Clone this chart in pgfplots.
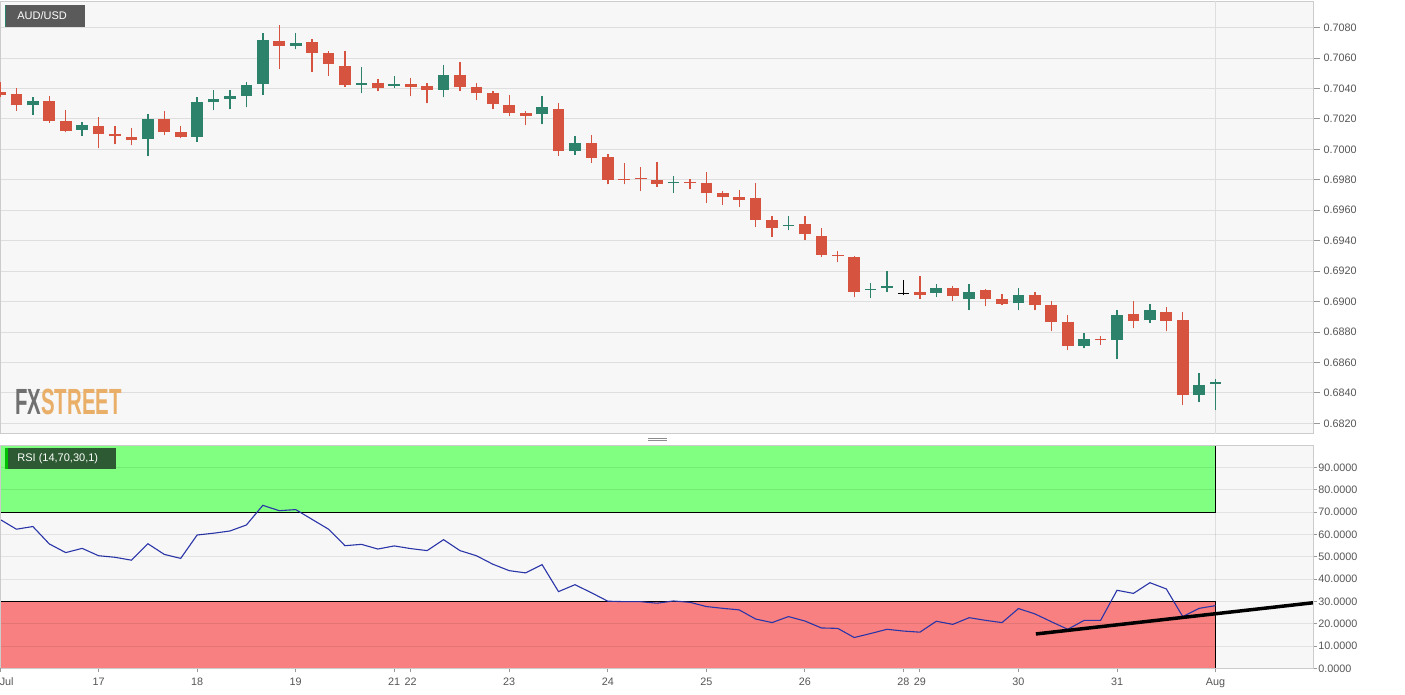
\documentclass[border=0pt]{standalone}
\usepackage{fontspec}
\setmainfont{Liberation Sans}
\usepackage{pgfplots}
\pgfplotsset{compat=1.18}
\usepackage{pgfplotstable}

\definecolor{bgc}{HTML}{F7F7F7}
\definecolor{gridc}{HTML}{DEDEDE}
\definecolor{cred}{HTML}{D6533F}
\definecolor{cgreen}{HTML}{2C826A}
\definecolor{zgreen}{HTML}{80FF80}
\definecolor{zred}{HTML}{F88080}
\definecolor{rsiblue}{HTML}{2A35A8}
\definecolor{labc}{HTML}{555555}
\definecolor{axc}{HTML}{CCCCCC}
\definecolor{boxgray}{HTML}{5A5A5A}
\definecolor{boxgreen}{HTML}{2D5A32}
\definecolor{fxgray}{HTML}{707070}
\definecolor{fxorange}{HTML}{E9AE68}

% x = candle index (4-hour candles), o h l c
\pgfplotstableread{
x o h l c
2 0.70288 0.70343 0.70227 0.70317
5 0.70129 0.70179 0.70090 0.70157
9 0.70066 0.70229 0.69954 0.70199
12 0.70083 0.70341 0.70050 0.70308
13 0.70308 0.70389 0.70256 0.70328
14 0.70328 0.70387 0.70262 0.70352
15 0.70352 0.70442 0.70275 0.70422
16 0.70428 0.70767 0.70358 0.70717
18 0.70680 0.70767 0.70656 0.70699
22 0.70424 0.70538 0.70367 0.70439
24 0.70417 0.70479 0.70402 0.70428
27 0.70391 0.70551 0.70341 0.70487
33 0.70229 0.70348 0.70164 0.70278
35 0.69989 0.70090 0.69965 0.70039
41 0.69777 0.69823 0.69716 0.69786
48 0.69497 0.69561 0.69467 0.69506
53 0.69075 0.69121 0.69023 0.69082
54 0.69086 0.69198 0.69062 0.69104
57 0.69058 0.69115 0.69032 0.69088
59 0.69016 0.69115 0.68942 0.69062
62 0.68988 0.69086 0.68942 0.69040
66 0.68710 0.68793 0.68693 0.68752
68 0.68750 0.68944 0.68621 0.68911
70 0.68876 0.68986 0.68861 0.68942
73 0.68385 0.68533 0.68339 0.68454
74 0.68459 0.68494 0.68286 0.68472
}\greentab

\pgfplotstableread{
x o h l c
0 0.70378 0.70444 0.70341 0.70356
1 0.70361 0.70400 0.70254 0.70288
3 0.70315 0.70348 0.70175 0.70188
4 0.70186 0.70256 0.70111 0.70120
6 0.70155 0.70210 0.70007 0.70098
7 0.70100 0.70151 0.70033 0.70085
8 0.70081 0.70138 0.70026 0.70061
10 0.70199 0.70249 0.70092 0.70116
11 0.70114 0.70151 0.70072 0.70083
17 0.70715 0.70820 0.70529 0.70680
19 0.70706 0.70726 0.70509 0.70634
20 0.70632 0.70647 0.70483 0.70560
21 0.70546 0.70649 0.70411 0.70424
23 0.70433 0.70459 0.70382 0.70400
25 0.70428 0.70466 0.70348 0.70411
26 0.70417 0.70437 0.70302 0.70391
28 0.70487 0.70577 0.70385 0.70409
29 0.70407 0.70439 0.70321 0.70369
30 0.70367 0.70382 0.70267 0.70299
31 0.70291 0.70358 0.70216 0.70240
32 0.70238 0.70251 0.70157 0.70221
34 0.70264 0.70306 0.69958 0.69989
36 0.70039 0.70092 0.69912 0.69941
37 0.69952 0.69967 0.69770 0.69801
38 0.69805 0.69908 0.69770 0.69797
39 0.69812 0.69882 0.69725 0.69803
40 0.69799 0.69915 0.69755 0.69775
42 0.69788 0.69805 0.69738 0.69779
43 0.69779 0.69849 0.69646 0.69714
44 0.69711 0.69729 0.69635 0.69690
45 0.69690 0.69731 0.69624 0.69670
46 0.69679 0.69779 0.69493 0.69537
47 0.69537 0.69563 0.69423 0.69482
49 0.69508 0.69563 0.69403 0.69443
50 0.69429 0.69482 0.69296 0.69307
51 0.69309 0.69333 0.69259 0.69298
52 0.69294 0.69300 0.69029 0.69062
56 0.69062 0.69171 0.69018 0.69042
58 0.69086 0.69101 0.69005 0.69034
60 0.69077 0.69082 0.68968 0.69014
61 0.69014 0.69049 0.68979 0.68983
63 0.69040 0.69062 0.68942 0.68979
64 0.68979 0.69001 0.68806 0.68868
65 0.68868 0.68911 0.68680 0.68710
67 0.68754 0.68776 0.68715 0.68747
69 0.68920 0.69003 0.68824 0.68874
71 0.68933 0.68964 0.68804 0.68872
72 0.68876 0.68929 0.68319 0.68385
}\redtab

\pgfplotstableread{
x o h l c
55 0.69059 0.69139 0.69042 0.69056
}\blacktab

\pgfplotstableread{
x r
0 66.8
1 62.4
2 63.6
3 55.8
4 51.9
5 53.8
6 50.5
7 49.8
8 48.5
9 55.9
10 51.1
11 49.3
12 59.8
13 60.6
14 61.6
15 64.3
16 73.1
17 70.7
18 71.2
19 66.8
20 62.4
21 55.0
22 55.6
23 53.5
24 54.9
25 53.7
26 52.8
27 57.7
28 52.8
29 50.5
30 46.7
31 43.8
32 42.8
33 46.5
34 34.4
35 37.5
36 33.9
37 30.1
38 29.9
39 29.9
40 29.2
41 30.2
42 29.6
43 27.7
44 26.9
45 26.2
46 22.1
47 20.5
48 23.2
49 21.2
50 18.1
51 17.9
52 13.8
53 15.6
54 17.5
55 16.7
56 16.2
57 21.1
58 19.7
59 22.7
60 21.5
61 20.5
62 26.8
63 24.4
64 20.9
65 17.5
66 21.5
67 21.5
68 35.0
69 33.6
70 38.4
71 35.6
72 23.2
73 26.9
74 28.1
}\rsitab

\pgfplotsset{
  wick/.style={only marks, mark=*, mark size=0pt, mark options={draw=none, fill=none}, forget plot,
    error bars/.cd, y dir=plus, y explicit, error mark=none,
    error bar style={line width=0.7pt, draw=#1}},
  body/.style={only marks, mark=*, mark size=0pt, mark options={draw=none, fill=none}, forget plot,
    error bars/.cd, y dir=plus, y explicit, error mark=none,
    error bar style={line width=5.85pt, draw=#1}},
  tlab/.style={font=\fontsize{5.4}{6}\selectfont, text=labc},
}

\begin{document}
\begin{tikzpicture}
\useasboundingbox (0pt,0pt) rectangle (702.5pt,347.5pt);
\fill[white] (0pt,0pt) rectangle (702.5pt,347.5pt);

% ---------------- price panel ----------------
\begin{axis}[
  at={(0pt,130.5pt)}, anchor=south west, scale only axis,
  width=656.5pt, height=216pt,
  xmin=0, xmax=79.93, ymin=0.6813, ymax=0.70968,
  axis background/.style={fill=bgc},
  axis line style={draw=axc, line width=0.5pt},
  xtick=\empty,
  scaled y ticks=false,
  ytick={0.682,0.684,0.686,0.688,0.690,0.692,0.694,0.696,0.698,0.700,0.702,0.704,0.706,0.708},
  yticklabels={0.6820,0.6840,0.6860,0.6880,0.6900,0.6920,0.6940,0.6960,0.6980,0.7000,0.7020,0.7040,0.7060,0.7080},
  ytick pos=right, yticklabel pos=right,
  tick align=outside, major tick length=3.3pt,
  tick style={draw=black!40, line width=0.5pt},
  yticklabel style={tlab, inner sep=0pt, anchor=west, xshift=1.8pt},
  ymajorgrids, grid style={draw=gridc, line width=0.5pt},
]
\addplot[gridc, line width=0.5pt, forget plot] coordinates {(74,0.6800) (74,0.7100)};
\addplot[wick=cred] table[x=x, y=l, y error plus expr={\thisrow{h}-\thisrow{l}}] \redtab;
\addplot[wick=cgreen] table[x=x, y=l, y error plus expr={\thisrow{h}-\thisrow{l}}] \greentab;
\addplot[wick=black] table[x=x, y=l, y error plus expr={\thisrow{h}-\thisrow{l}}] \blacktab;
\addplot[body=cred] table[x=x, y=c, y error plus expr={\thisrow{o}-\thisrow{c}}] \redtab;
\addplot[body=cgreen] table[x=x, y=o, y error plus expr={\thisrow{c}-\thisrow{o}}] \greentab;
\addplot[body=black] table[x=x, y=c, y error plus expr={\thisrow{o}-\thisrow{c}}] \blacktab;
\end{axis}

% ---------------- RSI panel ----------------
\begin{axis}[
  at={(0pt,13.35pt)}, anchor=south west, scale only axis,
  width=656.5pt, height=111.45pt,
  xmin=0, xmax=79.93, ymin=0, ymax=100,
  axis background/.style={fill=bgc},
  axis line style={draw=axc, line width=0.5pt},
  axis on top,
  ytick={0,10,20,30,40,50,60,70,80,90},
  yticklabels={0.0000,10.0000,20.0000,30.0000,40.0000,50.0000,60.0000,70.0000,80.0000,90.0000},
  ytick pos=right, yticklabel pos=right,
  xtick={6,12,18,24,25,31,37,43,49,55,56,62,68,74},
  xticklabels={17,18,19,21,22,23,24,25,26,28,29,30,31,Aug},
  extra x ticks={0}, extra x tick labels={Jul},
  extra x tick style={xticklabel style={anchor=north west, xshift=-0.3pt}},
  xtick pos=bottom,
  tick align=outside, major tick length=2pt,
  tick style={draw=black!40, line width=0.5pt},
  yticklabel style={tlab, inner sep=0pt, anchor=west, xshift=0.5pt},
  xticklabel style={tlab, inner sep=0pt, anchor=north, yshift=-2.6pt},
  ymajorgrids, grid style={draw=black, opacity=0.08, line width=0.5pt},
]
\addplot[gridc, line width=0.5pt, forget plot] coordinates {(74,-5) (74,105)};
\addplot[draw=black, line width=0.6pt, fill=zgreen, forget plot] coordinates {(0,70) (74,70) (74,102) (0,102)} -- cycle;
\addplot[draw=black, line width=0.6pt, fill=zred, forget plot] coordinates {(0,-2) (0,30) (74,30) (74,-2)} -- cycle;
\addplot[rsiblue, line width=0.55pt] table[x=x, y=r] \rsitab;
\addplot[black, line width=1.75pt] coordinates {(63.06,15.4) (80.5,29.87)};
\end{axis}

% labels and decorations
\fill[boxgray] (2.35pt,334.15pt) rectangle (42.5pt,345pt);
\fill[cgreen] (2.35pt,334.15pt) rectangle (3.2pt,345pt);
\node[anchor=west, inner sep=0pt, text=white, font=\fontsize{5.5}{6}\selectfont] at (8.5pt,339.5pt) {AUD/USD};

\fill[boxgreen] (2.25pt,112.75pt) rectangle (58pt,123.5pt);
\fill[green!75!black] (2.5pt,112.75pt) rectangle (4pt,123.5pt);
\node[anchor=west, inner sep=0pt, text=white, font=\fontsize{5.5}{6}\selectfont] at (8.5pt,118.1pt) {RSI (14,70,30,1)};

\node[anchor=base west, inner sep=0pt, xscale=0.56, font=\bfseries\fontsize{18.2}{20}\selectfont] at (7.5pt,140.35pt) {\textcolor{fxgray}{FX}\textcolor{fxorange}{STREET}};

\draw[black!45, line width=0.5pt] (324pt,128.4pt) -- (333.5pt,128.4pt);
\draw[black!45, line width=0.5pt] (324pt,127.1pt) -- (333.5pt,127.1pt);
\end{tikzpicture}
\end{document}
